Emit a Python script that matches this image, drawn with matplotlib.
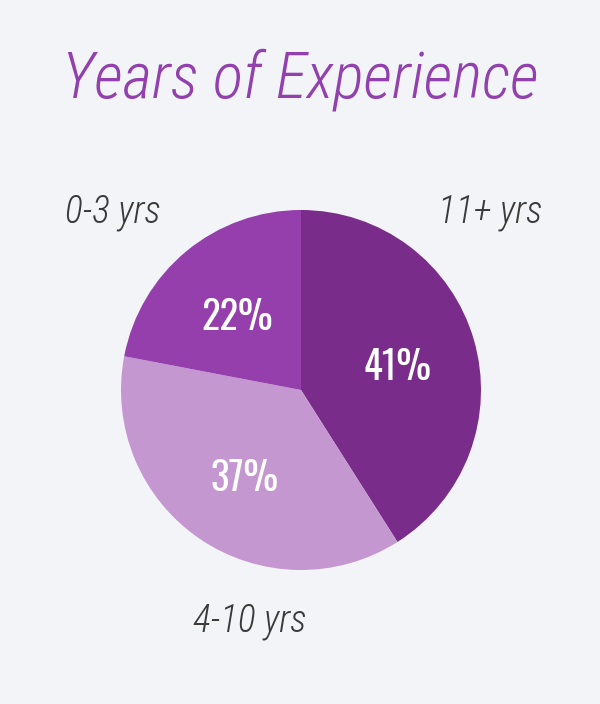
import matplotlib
matplotlib.use("Agg")
import matplotlib.pyplot as plt

# Data
categories = ["11+ yrs", "4-10 yrs", "0-3 yrs"]
shares = [41, 37, 22]
colors = ["#7a2c8a", "#c497d0", "#943fac"]

BG = "#f3f4f8"
LABEL_FONT = ["Roboto Condensed", "DejaVu Sans"]
PCT_FONT = ["Oswald", "Roboto Condensed", "DejaVu Sans"]

fig = plt.figure(figsize=(6, 7.04), dpi=100, facecolor=BG)

# pie axes: center (301, 390) px, radius 180 px
ax = fig.add_axes([121 / 600, (704 - 570) / 704, 360 / 600, 360 / 704])
ax.set_facecolor(BG)
wedges, texts, autotexts = ax.pie(
    shares,
    colors=colors,
    startangle=90,
    counterclock=False,
    autopct="%d%%",
    pctdistance=0.56,
    radius=1.0,
    wedgeprops=dict(linewidth=0),
    textprops=dict(color="white", fontsize=28, weight=300, family=PCT_FONT),
)
# nudge the percentages a bit lower
for t in autotexts:
    x, y = t.get_position()
    t.set_position((x, y - 0.03))
ax.set_xlim(-1, 1)
ax.set_ylim(-1, 1)
ax.set_aspect("equal")
ax.axis("off")

# Title
fig.text(0.5, 1 - 80 / 704, "Years of Experience", ha="center", va="center",
         fontsize=46, color="#9140ae", style="italic", weight=300,
         family=LABEL_FONT)

# Category labels outside the pie
label_pos = {
    "0-3 yrs": (113, 213),
    "11+ yrs": (490, 213),
    "4-10 yrs": (250, 621),
}
for name in categories:
    px, py = label_pos[name]
    fig.text(px / 600, 1 - py / 704, name, ha="center", va="center",
             fontsize=27, color="#3a3a3a", style="italic", weight=300,
             family=LABEL_FONT)

fig.savefig("out.png", dpi=100, facecolor=BG)
